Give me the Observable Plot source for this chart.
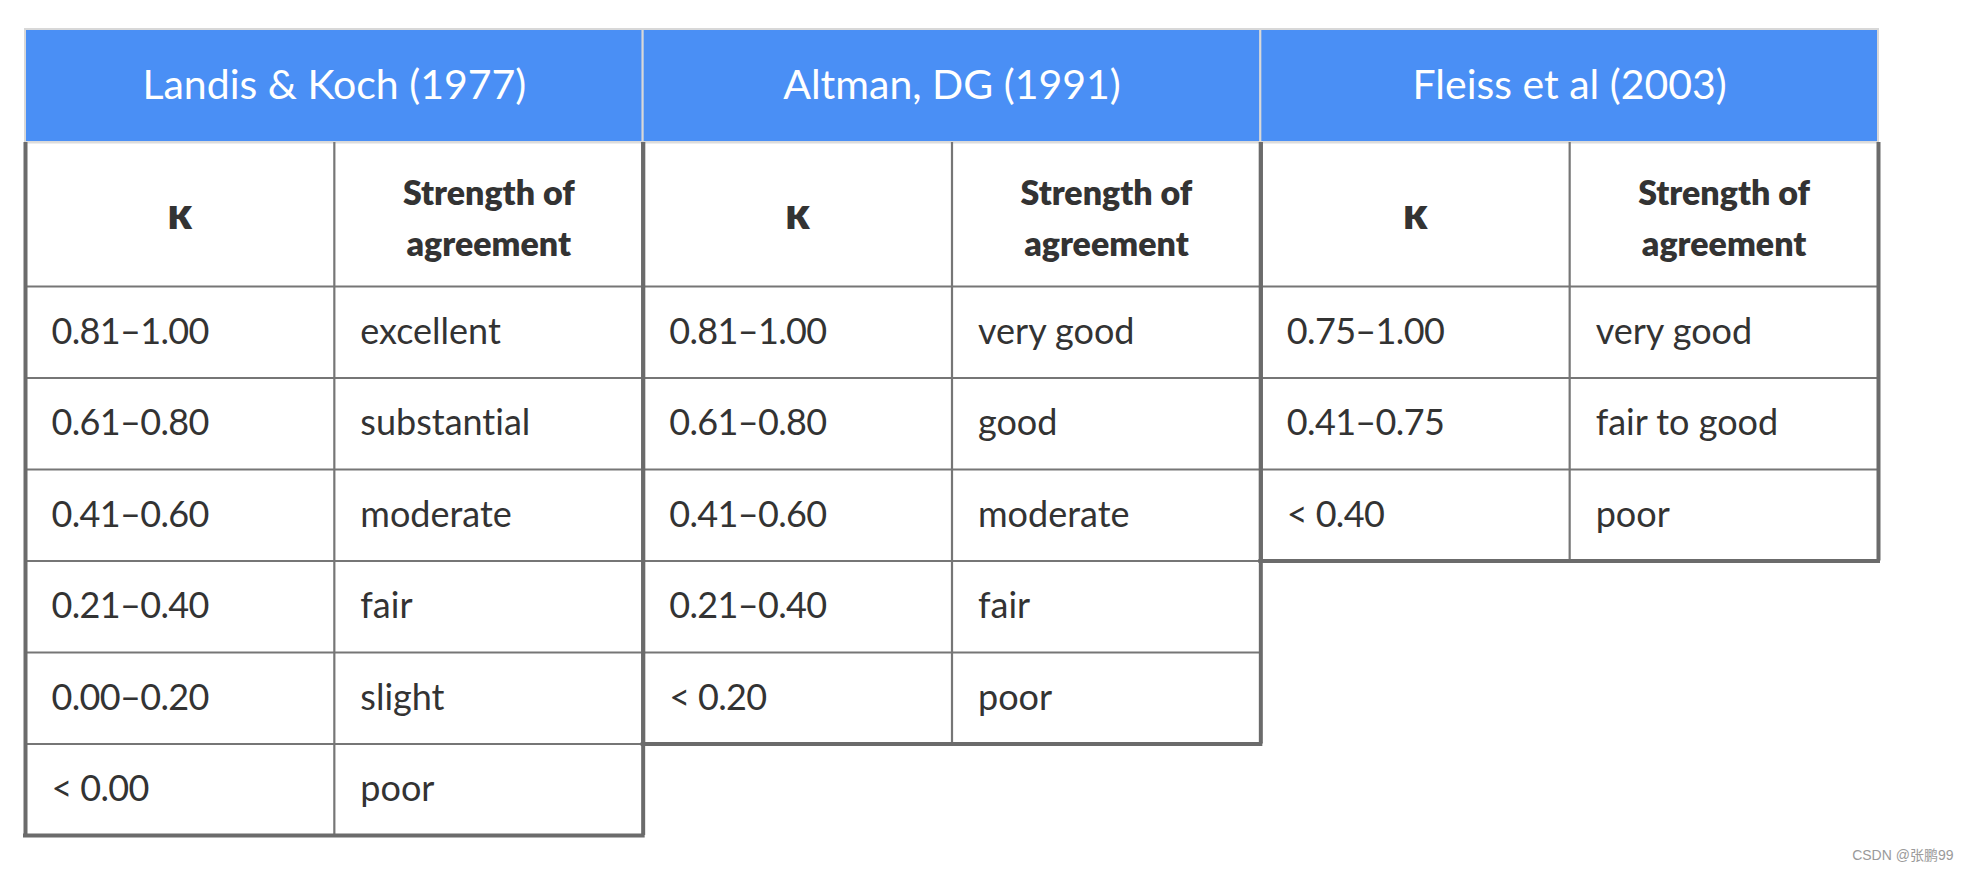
<!DOCTYPE html>
<html>
<head>
<meta charset="utf-8">
<script src="https://cdn.jsdelivr.net/npm/d3@7"></script>
<script src="https://cdn.jsdelivr.net/npm/@observablehq/plot@0.6"></script>
<style>
  html, body { margin: 0; padding: 0; background: #ffffff; }
  #chart svg { display: block; }
  #chart svg text { font-variant-ligatures: none; font-feature-settings: "liga" 0, "clig" 0; }
  #chart svg text[aria-label="range"] { letter-spacing: -0.65px; }
</style>
</head>
<body>
<div id="chart"></div>
<script>
// ---- Data ----
const groups = ["Landis & Koch (1977)", "Altman, DG (1991)", "Fleiss et al (2003)"];
const columnHeaders = ["κ", "Strength of\nagreement"];
const landisRanges = ["0.81–1.00", "0.61–0.80", "0.41–0.60", "0.21–0.40", "0.00–0.20", "< 0.00"];
const landisLabels = ["excellent", "substantial", "moderate", "fair", "slight", "poor"];
const altmanRanges = ["0.81–1.00", "0.61–0.80", "0.41–0.60", "0.21–0.40", "< 0.20"];
const altmanLabels = ["very good", "good", "moderate", "fair", "poor"];
const fleissRanges = ["0.75–1.00", "0.41–0.75", "< 0.40"];
const fleissLabels = ["very good", "fair to good", "poor"];
const watermark = "CSDN @张鹏99";

// ---- Layout (in row units: one body row = 1) ----
const HDR = 1.235;   // group title band
const SUB = 1.574;   // column header band
const BODY0 = HDR + SUB;
const tables = [
  {ranges: landisRanges, labels: landisLabels},
  {ranges: altmanRanges, labels: altmanLabels},
  {ranges: fleissRanges, labels: fleissLabels}
];
const maxRows = d3.max(tables, t => t.ranges.length);
const TOTAL = BODY0 + maxRows;

const groupData = groups.map((name, g) => ({
  name, x1: 2 * g, x2: 2 * g + 2, xm: 2 * g + 1,
  bottom: BODY0 + tables[g].ranges.length
}));

const subCells = groups.flatMap((_, g) =>
  columnHeaders.map((text, c) => ({text, c, xm: 2 * g + c + 0.5}))
);

const bodyCells = tables.flatMap((t, g) =>
  t.ranges.flatMap((r, i) => [
    {text: r, kind: "range", x: 2 * g, ym: BODY0 + i + 0.5},
    {text: t.labels[i], kind: "label", x: 2 * g + 1, ym: BODY0 + i + 0.5}
  ])
);

const rowLines = tables.flatMap((t, g) =>
  d3.range(t.ranges.length).map(i => ({x1: 2 * g, x2: 2 * g + 2, y: BODY0 + i}))
);

const FONT = "Lato, 'Noto Sans', sans-serif";
const BORDER = "#6b6b6b";
const INNER = "#767676";

const chart = Plot.plot({
  width: 1968,
  height: 874,
  marginLeft: 25,
  marginRight: 90,
  marginTop: 29,
  marginBottom: 39,
  style: {fontFamily: FONT, background: "#ffffff"},
  x: {type: "linear", domain: [0, 2 * groups.length], axis: null},
  y: {type: "linear", domain: [0, TOTAL], reverse: true, axis: null},
  marks: [
    // header band
    Plot.rect(groupData, {x1: "x1", x2: "x2", y1: 0, y2: HDR, fill: "#4a8ff5", stroke: "#d8d8d8", strokeWidth: 2}),
    // light line under header
    Plot.ruleY(groupData, {y: HDR, x1: "x1", x2: "x2", stroke: "#dcdcdc", strokeWidth: 2}),
    // horizontal inner row lines
    Plot.ruleY(rowLines, {y: "y", x1: "x1", x2: "x2", stroke: INNER, strokeWidth: 2.2}),
    // inner vertical divider
    Plot.ruleX(groupData, {x: "xm", y1: HDR, y2: "bottom", stroke: INNER, strokeWidth: 2.2}),
    // outer borders
    Plot.ruleX(groupData, {x: "x1", y1: HDR, y2: "bottom", stroke: BORDER, strokeWidth: 4}),
    Plot.ruleX(groupData, {x: "x2", y1: HDR, y2: "bottom", stroke: BORDER, strokeWidth: 4}),
    Plot.ruleY(groupData, {y: "bottom", x1: "x1", x2: "x2", stroke: BORDER, strokeWidth: 4, strokeLinecap: "square"}),
    // group titles
    Plot.text(groupData, {x: "xm", y: HDR / 2, text: "name", fill: "#ffffff", fontSize: 41, fontFamily: FONT}),
    // column headers: kappa
    Plot.text(subCells.filter(d => d.c === 0), {x: "xm", y: HDR + SUB / 2, text: "text", fill: "#333333", fontSize: 44, fontWeight: 800, fontFamily: FONT}),
    // column headers: strength of agreement
    Plot.text(subCells.filter(d => d.c === 1), {x: "xm", y: HDR + SUB / 2, text: "text", fill: "#333333", fontSize: 34, fontWeight: 800, lineHeight: 1.5, fontFamily: FONT}),
    // body text
    Plot.text(bodyCells, {x: "x", y: "ym", text: "text", textAnchor: "start", dx: 26, fill: "#333333", fontSize: 36, fontFamily: FONT, ariaLabel: "kind"}),
    // watermark
    Plot.text([watermark], {frameAnchor: "bottom-right", text: d => d, dx: 75, dy: 24, fontSize: 14, fill: "#9a9a9a", fontFamily: "'Liberation Sans', 'Noto Sans CJK SC', sans-serif"})
  ]
});

document.getElementById("chart").appendChild(chart);
</script>
</body>
</html>
